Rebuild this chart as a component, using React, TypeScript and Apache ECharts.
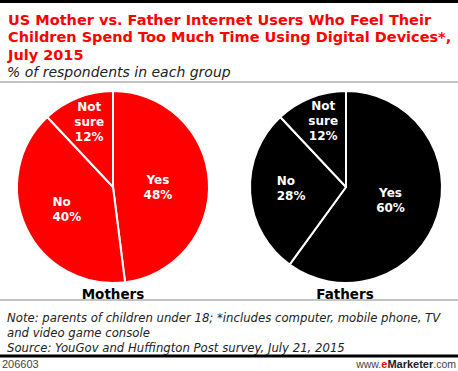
import React, { useEffect, useRef } from "react";
import * as echarts from "echarts";

const categories = ["Yes", "No", "Not\nsure"];
const mothersValues = [48, 40, 12];
const fathersValues = [60, 28, 12];
const groupNames = ["Mothers", "Fathers"];

const titleText =
  "US Mother vs. Father Internet Users Who Feel Their\nChildren Spend Too Much Time Using Digital Devices*,\nJuly 2015";
const subtitleText = "% of respondents in each group";
const noteText =
  "Note: parents of children under 18; *includes computer, mobile phone, TV\nand video game console\nSource: YouGov and Huffington Post survey, July 21, 2015";
const chartId = "206603";

// label nudges [seriesIndex][dataIndex] = [dx, dy]
const labelNudge = [
  [[-6, 4], [0, 1], [-5, -18]],
  [[-4, -2], [-4, -2], [-4, -19]],
];

const FONT = "DejaVu Sans";

export default function App() {
  const ref = useRef<HTMLDivElement>(null);
  useEffect(() => {
    const chart = echarts.init(ref.current!, null, { renderer: "svg" });
    const makeSeries = (values: number[], color: string, cx: number, si: number) => ({
      type: "pie",
      center: [cx, 187],
      radius: 96,
      startAngle: 90,
      clockwise: true,
      silent: true,
      itemStyle: { color, borderColor: "#fff", borderWidth: 2 },
      label: {
        show: true,
        position: "inside",
        color: "#fff",
        fontFamily: FONT,
        fontWeight: "bold",
        fontSize: 12,
        lineHeight: 15,
        formatter: (p: any) =>
          p.dataIndex === 1
            ? `{l|${p.name}}\n{l|${p.value}%}`
            : `${p.name}\n${p.value}%`,
        rich: {
          l: {
            align: "left",
            color: "#fff",
            fontFamily: FONT,
            fontWeight: "bold",
            fontSize: 12,
            lineHeight: 15,
          },
        },
      },
      labelLine: { show: false },
      labelLayout: (p: any) => {
        const n = labelNudge[si]?.[p.dataIndex] || [0, 0];
        return { dx: n[0], dy: n[1] };
      },
      data: categories.map((c, i) => ({ name: c, value: values[i] })),
    });
    chart.setOption({
      animation: false,
      title: [
        {
          text: titleText,
          left: 3,
          top: 6,
          textStyle: {
            fontFamily: FONT,
            fontWeight: "bold",
            fontSize: 14.5,
            lineHeight: 17.5,
            color: "#f00",
          },
        },
        {
          text: subtitleText,
          left: 2,
          top: 60,
          textStyle: {
            fontFamily: FONT,
            fontStyle: "italic",
            fontWeight: "normal",
            fontSize: 14,
            color: "#222",
          },
        },
        {
          text: noteText,
          left: 2,
          top: 305,
          textStyle: {
            fontFamily: FONT,
            fontStyle: "italic",
            fontWeight: "normal",
            fontSize: 11.7,
            lineHeight: 15,
            color: "#222",
          },
        },
      ],
      graphic: [
        { type: "rect", shape: { x: 0, y: 0, width: 458, height: 3 }, style: { fill: "#000" }, silent: true },
        { type: "rect", shape: { x: 0, y: 81.5, width: 458, height: 1 }, style: { fill: "#888" }, silent: true },
        { type: "rect", shape: { x: 0, y: 299.5, width: 458, height: 1 }, style: { fill: "#888" }, silent: true },
        { type: "rect", shape: { x: 0, y: 354.5, width: 458, height: 3 }, style: { fill: "#000" }, silent: true },
        {
          type: "text",
          silent: true,
          style: {
            x: 113,
            y: 294,
            text: groupNames[0],
            align: "center",
            verticalAlign: "middle",
            fontFamily: FONT,
            fontWeight: "bold",
            fontSize: 13.5,
            fill: "#000",
          },
        },
        {
          type: "text",
          silent: true,
          style: {
            x: 345,
            y: 294,
            text: groupNames[1],
            align: "center",
            verticalAlign: "middle",
            fontFamily: FONT,
            fontWeight: "bold",
            fontSize: 13.5,
            fill: "#000",
          },
        },
        {
          type: "text",
          silent: true,
          style: {
            x: 2,
            y: 364,
            text: chartId,
            align: "left",
            verticalAlign: "middle",
            fontFamily: "Liberation Sans",
            fontSize: 11,
            fill: "#444",
          },
        },
        {
          type: "text",
          silent: true,
          style: {
            x: 456,
            y: 364,
            text: "{a|www.}{b|e}{c|Marketer}{a|.com}",
            align: "right",
            verticalAlign: "middle",
            rich: {
              a: { fontFamily: "Liberation Sans", fontSize: 10.5, fill: "#444" },
              b: { fontFamily: "Liberation Sans", fontSize: 11, fontWeight: "bold", fill: "#f00" },
              c: { fontFamily: "Liberation Sans", fontSize: 11, fontWeight: "bold", fill: "#222" },
            },
          },
        },
      ],
      series: [
        makeSeries(mothersValues, "#f00", 113, 0),
        makeSeries(fathersValues, "#000", 346, 1),
      ],
    });
    return () => chart.dispose();
  }, []);
  return (
    <div
      ref={ref}
      style={{ position: "absolute", left: 0, top: 0, width: 458, height: 371, background: "#fff" }}
    />
  );
}
